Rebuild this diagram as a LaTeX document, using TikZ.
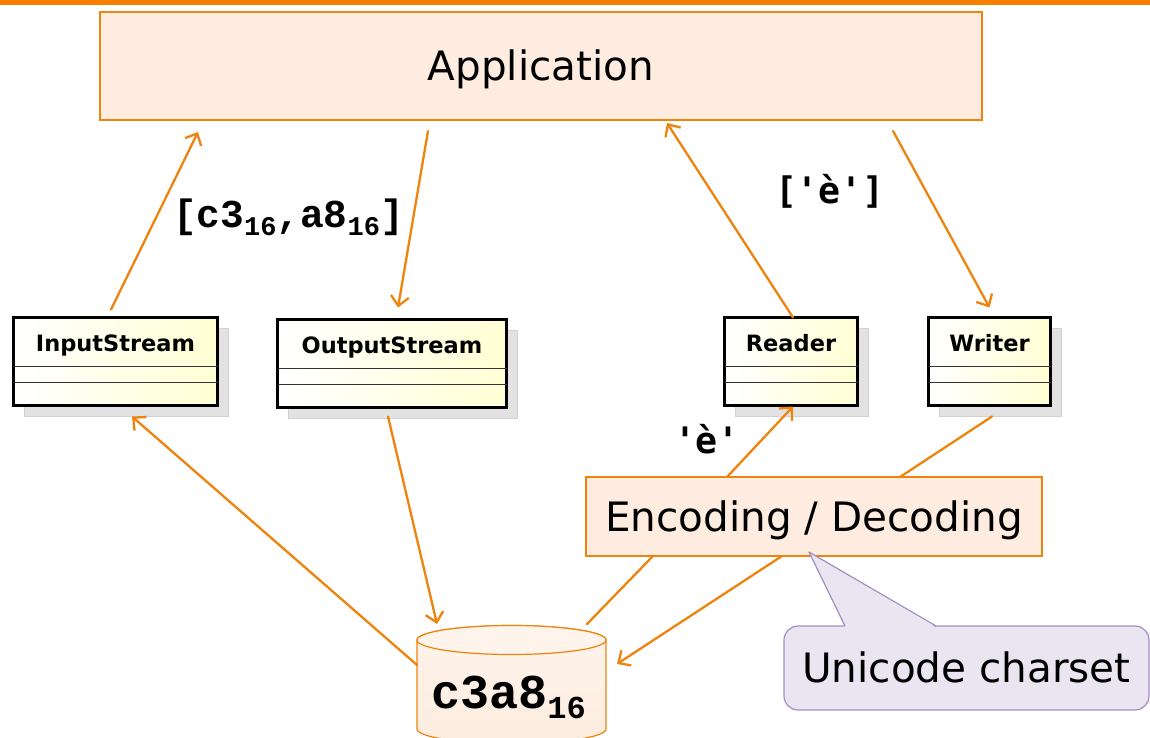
\documentclass[tikz,border=0pt]{standalone}
\usepackage{fontspec}
\setmainfont{DejaVu Sans}
\newfontfamily\hexfont{Liberation Mono}[Ligatures=TeXOff]
\newfontfamily\chrfont{DejaVu Sans Mono}[Ligatures=TeXOff]
\usetikzlibrary{arrows.meta,shadows,calc}

\definecolor{accent}{RGB}{247,127,0}
\definecolor{wire}{RGB}{238,132,14}
\definecolor{peach}{RGB}{253,236,223}
\definecolor{peachtop}{RGB}{254,244,236}
\definecolor{umlyel}{RGB}{255,255,212}
\definecolor{shadowgray}{RGB}{226,226,226}
\definecolor{lav}{RGB}{233,229,241}
\definecolor{lavline}{RGB}{163,142,196}

\tikzset{
  every node/.style={inner sep=0pt, outer sep=0pt},
  plainbox/.style={draw=wire, line width=1.2pt, fill=peach},
  bigtxt/.style={font=\fontsize{40.5}{48}\selectfont, text height=29.5pt, text depth=0pt},
  umlbox/.style={draw=black, line width=3.8pt, left color=white, right color=umlyel,
    general shadow={shadow xshift=11pt, shadow yshift=-11pt, fill=shadowgray, draw=black!18, line width=1pt}},
  umlname/.style={font=\fontsize{22.5}{27}\selectfont\bfseries, text height=16.4pt, text depth=0pt},
  divider/.style={draw=black!80, line width=1.5pt},
  link/.style={draw=wire, line width=2.3pt, line cap=round},
  arr/.style={link, -{Straight Barb[length=9.5pt, width=18pt]}},
  hexlbl/.style={font=\hexfont\bfseries\fontsize{39.5}{44}\selectfont},
  chrlbl/.style={font=\chrfont\bfseries\fontsize{36.5}{42}\selectfont},
}

% hexadecimal base marker set below the line
\newcommand{\basesub}[2]{\raisebox{-#2}{\fontsize{#1}{#1}\selectfont 16}}

% a UML class: frame, name compartment and two empty compartments
\newcommand{\umlclass}[5]{%
  \node[umlbox, minimum width=#4, minimum height=88pt] (#1) at (#2,#3) {};
  \node[umlname] (#1-name) at ([yshift=-26pt]#1.north) {#5};
  \draw[divider] ([yshift=-49pt]#1.north west) -- ([yshift=-49pt]#1.north east);
  \draw[divider] ([yshift=-65pt]#1.north west) -- ([yshift=-65pt]#1.north east);
}

\begin{document}
\begin{tikzpicture}[x=1pt, y=-1pt]
\useasboundingbox (0,0) rectangle (1150,738);
\clip (0,0) rectangle (1150,738);
\fill[white] (0,0) rectangle (1150,738);

% header rule
\fill[accent] (0,0) rectangle (1150,5.5);

% application layer
\node[plainbox, bigtxt, minimum width=882pt, minimum height=108pt] (app) at (541,66) {Application};

% stream and character classes
\umlclass{inS}{115.5}{361.5}{204pt}{InputStream}
\umlclass{outS}{392}{363.5}{229pt}{OutputStream}
\umlclass{rdr}{791}{361.5}{133pt}{Reader}
\umlclass{wrt}{989.5}{361.5}{122pt}{Writer}

% byte storage (cylinder)
\node[minimum width=189pt, minimum height=112pt] (cyl) at (511.5,682) {};
\draw[draw=wire, line width=1.2pt, top color=peachtop, bottom color=peach]
  ($(cyl.north west)+(0,14)$) -- ($(cyl.south west)+(0,-9)$)
  arc[start angle=180, end angle=360, x radius=94.5pt, y radius=14.5pt]
  -- ($(cyl.north east)+(0,14)$)
  arc[start angle=0, end angle=180, x radius=94.5pt, y radius=14.5pt] -- cycle;
\draw[draw=wire, line width=1.2pt, fill=peachtop]
  ($(cyl.north)+(0,14)$) ellipse [x radius=94.5pt, y radius=14.5pt];
\node[font=\hexfont\bfseries\fontsize{48.5}{54}\selectfont, anchor=base west] (cyltxt) at (431,708)
  {c3a8\basesub{32}{10pt}};

% encoder / decoder
\node[plainbox, bigtxt, minimum width=456pt, minimum height=79pt] (enc) at (814,516.5) {Encoding / Decoding};

% connectors
\draw[arr] ([xshift=-4.5pt,yshift=8pt]inS.north) -- ([xshift=98pt,yshift=-12pt]app.south west);
\draw[arr] ([xshift=328pt,yshift=-11pt]app.south west) -- ([xshift=6pt,yshift=12pt]outS.north);
\draw[arr] ([xshift=2pt]rdr.north) -- ([xshift=567pt,yshift=-3pt]app.south west);
\draw[arr] ([xshift=793pt,yshift=-11pt]app.south west) -- ([yshift=10pt]wrt.north);
\draw[arr] ([yshift=-39pt]cyl.north west) -- ([xshift=16.5pt,yshift=-11pt]inS.south);
\draw[arr] ([xshift=-4pt,yshift=-9pt]outS.south) -- ([xshift=20pt,yshift=2pt]cyl.north west);
\draw[link] ([xshift=-19pt,yshift=2pt]cyl.north east) -- ([xshift=67pt]enc.south west);
\draw[arr] ([xshift=141pt]enc.north west) -- ([xshift=2pt,yshift=-1pt]rdr.south);
\draw[link] ([xshift=2.5pt,yshift=-11pt]wrt.south) -- ([xshift=314pt]enc.north west);
\draw[arr] ([xshift=196pt]enc.south west) -- ([xshift=11pt,yshift=-38pt]cyl.north east);

% data labels
\node[hexlbl, anchor=base west] (bytes) at (173,227) {[c3\basesub{27}{8pt},a8\basesub{27}{8pt}]};
\node[chrlbl, anchor=base west] (chars) at (775,204) {['è']};
\node[chrlbl, anchor=base west] (onechar) at (674,453) {'è'};

% charset note
\node[draw=lavline, fill=lav, line width=1.2pt, rounded corners=14pt, bigtxt,
      minimum width=365pt, minimum height=84pt] (uc) at (966.5,668) {Unicode charset};
\coordinate (ucTip) at ($(enc.south west)+(223,-4)$);
\fill[lav] ($(uc.north west)+(61,1.5)$) -- (ucTip) -- ($(uc.north west)+(152,1.5)$) -- cycle;
\draw[lavline, line width=1.2pt, line join=round]
  ($(uc.north west)+(61,0)$) -- (ucTip) -- ($(uc.north west)+(152,0)$);
\end{tikzpicture}
\end{document}
